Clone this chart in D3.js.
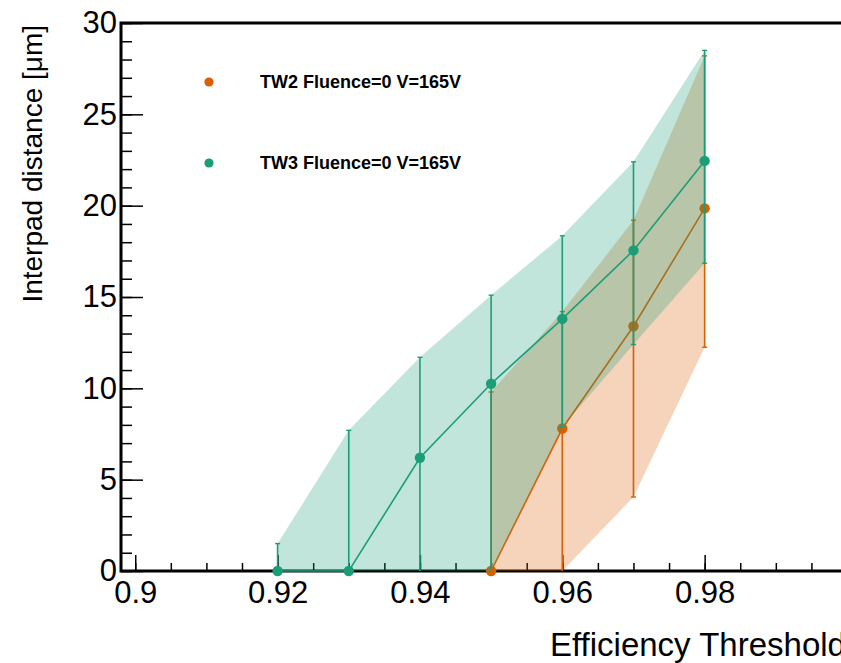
<!DOCTYPE html>
<html>
<head>
<meta charset="utf-8">
<script src="https://cdn.jsdelivr.net/npm/d3@7"></script>
<style>
  body { margin: 0; background: #fff; }
  text { font-family: "Liberation Sans", Arial, sans-serif; }
</style>
</head>
<body>
<div id="chart"></div>
<script>
// TW3 series
const tw3Threshold = [0.92, 0.93, 0.94, 0.95, 0.96, 0.97, 0.98];
const tw3Value = [0, 0, 6.2, 10.25, 13.8, 17.55, 22.45];
const tw3Low = [0, 0, 0, 0, 7.9, 12.4, 16.85];
const tw3High = [1.5, 7.7, 11.7, 15.1, 18.35, 22.4, 28.5];

// TW2 series
const tw2Threshold = [0.95, 0.96, 0.97, 0.98];
const tw2Value = [0, 7.8, 13.4, 19.85];
const tw2Low = [0, 0, 4.05, 12.25];
const tw2High = [9.8, 14.2, 19.2, 28.2];

const seriesNames = ["TW2 Fluence=0 V=165V", "TW3 Fluence=0 V=165V"];
const xMajorTicks = [0.9, 0.92, 0.94, 0.96, 0.98];
const yMajorTicks = [0, 5, 10, 15, 20, 25, 30];

const W = 841;
const H = 663;
const frame = { left: 121, top: 23, bottom: 571, right: 847 };

const svg = d3
  .select("#chart")
  .append("svg")
  .attr("width", W)
  .attr("height", H);

const x = d3.scaleLinear().domain([0.898, 1.0]).range([frame.left, frame.right]);
const y = d3.scaleLinear().domain([0, 30]).range([frame.bottom, frame.top]);

// minor ticks
const xMinor = d3.range(0, 21).map((i) => 0.9 + i * 0.005);
const yMinor = d3.range(0, 31);

svg
  .append("g")
  .attr("transform", `translate(0, ${frame.bottom})`)
  .call(d3.axisBottom(x).tickValues(xMinor).tickSize(-8).tickSizeOuter(0).tickFormat(""))
  .call((g) => g.select(".domain").remove());

svg
  .append("g")
  .attr("transform", `translate(${frame.left}, 0)`)
  .call(d3.axisLeft(y).tickValues(yMinor).tickSize(-11).tickSizeOuter(0).tickFormat(""))
  .call((g) => g.select(".domain").remove());

// major ticks + labels
const xAxis = svg
  .append("g")
  .attr("transform", `translate(0, ${frame.bottom})`)
  .call(
    d3
      .axisBottom(x)
      .tickValues(xMajorTicks)
      .tickSize(-16)
      .tickSizeOuter(0)
      .tickPadding(10)
      .tickFormat(d3.format("~g"))
  );
xAxis.select(".domain").remove();

const yAxis = svg
  .append("g")
  .attr("transform", `translate(${frame.left}, 0)`)
  .call(
    d3
      .axisLeft(y)
      .tickValues(yMajorTicks)
      .tickSize(-22)
      .tickSizeOuter(0)
      .tickPadding(4)
  );
yAxis.select(".domain").remove();

svg.selectAll(".tick line").attr("stroke", "#000").attr("stroke-width", 1.5);
svg
  .selectAll(".tick text")
  .attr("font-family", "Liberation Sans, Arial, sans-serif")
  .attr("font-size", 31)
  .attr("fill", "#000");

// frame lines
svg
  .append("path")
  .attr(
    "d",
    `M${frame.right},${frame.top}H${frame.left}V${frame.bottom}H${frame.right}`
  )
  .attr("fill", "none")
  .attr("stroke", "#000")
  .attr("stroke-width", 3);

// axis titles
svg
  .append("text")
  .attr("x", 550)
  .attr("y", 656)
  .attr("font-size", 33)
  .text("Efficiency Threshold");

svg
  .append("text")
  .attr("transform", "translate(42, 25) rotate(-90)")
  .attr("text-anchor", "end")
  .attr("font-size", 28)
  .text("Interpad distance [μm]");

function drawSeries(xs, vals, lows, highs, color) {
  const pts = xs.map((t, i) => ({ t: t, v: vals[i], lo: lows[i], hi: highs[i] }));
  const g = svg.append("g");

  g.append("path")
    .datum(pts)
    .attr(
      "d",
      d3
        .area()
        .x((d) => x(d.t))
        .y0((d) => y(d.lo))
        .y1((d) => y(d.hi))
    )
    .attr("fill", color)
    .attr("fill-opacity", 0.27);

  g.append("path")
    .datum(pts)
    .attr(
      "d",
      d3
        .line()
        .x((d) => x(d.t))
        .y((d) => y(d.v))
    )
    .attr("fill", "none")
    .attr("stroke", color)
    .attr("stroke-width", 1.6);

  const bars = g.selectAll(".err").data(pts).enter().append("g");
  bars
    .append("line")
    .attr("x1", (d) => x(d.t))
    .attr("x2", (d) => x(d.t))
    .attr("y1", (d) => y(d.lo))
    .attr("y2", (d) => y(d.hi))
    .attr("stroke", color)
    .attr("stroke-width", 1.6);
  bars
    .filter((d) => d.hi > d.v)
    .append("line")
    .attr("x1", (d) => x(d.t) - 2.5)
    .attr("x2", (d) => x(d.t) + 2.5)
    .attr("y1", (d) => y(d.hi))
    .attr("y2", (d) => y(d.hi))
    .attr("stroke", color)
    .attr("stroke-width", 1.4);
  bars
    .filter((d) => d.lo > 0)
    .append("line")
    .attr("x1", (d) => x(d.t) - 2.5)
    .attr("x2", (d) => x(d.t) + 2.5)
    .attr("y1", (d) => y(d.lo))
    .attr("y2", (d) => y(d.lo))
    .attr("stroke", color)
    .attr("stroke-width", 1.4);

  g.selectAll("circle")
    .data(pts)
    .enter()
    .append("circle")
    .attr("cx", (d) => x(d.t))
    .attr("cy", (d) => y(d.v))
    .attr("r", 5.2)
    .attr("fill", color);
}

const colors = ["#d95f02", "#1b9e77"];
drawSeries(tw2Threshold, tw2Value, tw2Low, tw2High, colors[0]);
drawSeries(tw3Threshold, tw3Value, tw3Low, tw3High, colors[1]);

// legend
const legendY = [82, 163];
const legend = svg.append("g");
seriesNames.forEach((name, i) => {
  legend
    .append("circle")
    .attr("cx", 209)
    .attr("cy", legendY[i])
    .attr("r", 4.6)
    .attr("fill", colors[i]);
  legend
    .append("text")
    .attr("x", 260)
    .attr("y", legendY[i] + 6)
    .attr("font-size", 18)
    .attr("font-weight", "bold")
    .text(name);
});
</script>
</body>
</html>
